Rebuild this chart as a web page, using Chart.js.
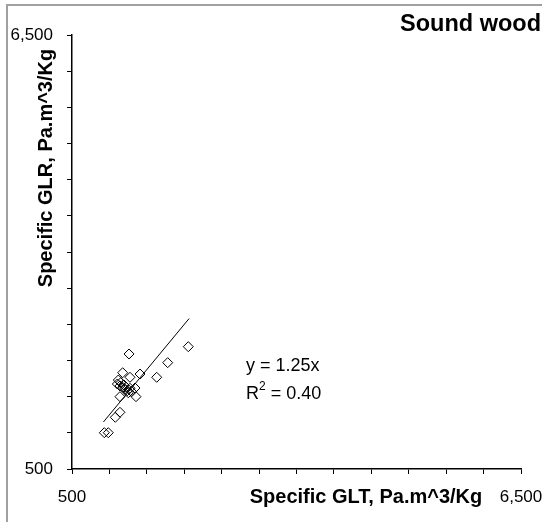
<!DOCTYPE html>
<html>
<head>
<meta charset="utf-8">
<script src="https://cdn.jsdelivr.net/npm/chart.js@4.4.0/dist/chart.umd.min.js"></script>
<style>
body { margin:0; background:#fff; overflow:hidden; }
#wrap { position:relative; width:542px; height:522px; overflow:hidden; }
#frame { position:absolute; left:6px; top:4px; width:600px; height:600px; border:2px solid #a0a0a0; box-sizing:border-box; }
canvas { position:absolute; left:0; top:0; }
</style>
</head>
<body>
<div id="wrap">
  <div id="frame"></div>
  <canvas id="myChart" width="542" height="522"></canvas>
</div>
<script>
// Datos
const glt = [932, 985, 1079, 1141, 1141, 1262, 1177, 1275, 1409, 1632, 1779, 2054, 1355,
             1119, 1151, 1106, 1141, 1177, 1208, 1239, 1222, 1275, 1342, 1252, 1298, 1195];
const glr = [1002, 1002, 1215, 1284, 1500, 2090, 1831, 1768, 1813, 1768, 1970, 2191, 1500,
             1730, 1693, 1675, 1648, 1630, 1602, 1583, 1630, 1616, 1620, 1555, 1569, 1661];
// linea de tendencia (extremos leidos)
const trendX = [920, 2065];
const trendY = [1150, 2580];
const axisMin = 500;
const axisMax = 6500;
const axisStep = 500;
const tickLabels = [500, 6500];

const chartTitle = "Sound wood";
const xTitle = "Specific GLT, Pa.m^3/Kg";
const yTitle = "Specific GLR, Pa.m^3/Kg";
const eqLine = "y = 1.25x";
const r2Value = "0.40";

const FONT = "'Liberation Sans', Arial, sans-serif";

let puntos = glt.map((x, i) => ({ x: x, y: glr[i] }));
let tendencia = trendX.map((x, i) => ({ x: x, y: trendY[i] }));

function tickText(value) {
    if (tickLabels.includes(value)) return value.toLocaleString("en-US");
    return "";
}

// textos extra: titulo, titulos de ejes y ecuacion
const textos = {
    id: "textos",
    afterDraw(chart) {
        const ctx = chart.ctx;
        ctx.save();
        ctx.fillStyle = "#000";
        ctx.textBaseline = "middle";

        ctx.font = "bold 23.5px " + FONT;
        ctx.textAlign = "right";
        ctx.fillText(chartTitle, 541, 25);

        ctx.font = "bold 20px " + FONT;
        ctx.textAlign = "center";
        ctx.fillText(xTitle, 366, 497);

        ctx.save();
        ctx.translate(46, 168);
        ctx.rotate(-Math.PI / 2);
        ctx.fillText(yTitle, 0, 0);
        ctx.restore();

        ctx.font = "18px " + FONT;
        ctx.textAlign = "left";
        ctx.fillText(eqLine, 246, 366);
        ctx.fillText("R", 246, 394);
        let w = ctx.measureText("R").width;
        ctx.font = "12px " + FONT;
        ctx.fillText("2", 246 + w, 387);
        let w2 = ctx.measureText("2").width;
        ctx.font = "18px " + FONT;
        ctx.fillText(" = " + r2Value, 246 + w + w2, 394);
        ctx.restore();
    }
};

const ejeComun = {
    type: "linear",
    min: axisMin,
    max: axisMax,
    grid: { drawOnChartArea: false, drawTicks: true, tickLength: 5, color: "#000", lineWidth: 1 },
    border: { display: true, color: "#000", width: 1.5 },
    ticks: {
        stepSize: axisStep,
        autoSkip: false,
        maxRotation: 0,
        color: "#000",
        font: { family: FONT, size: 17 },
        callback: tickText
    }
};

const config = {
    type: "scatter",
    data: {
        datasets: [
            {
                label: "GLR vs GLT",
                data: puntos,
                pointStyle: "rectRot",
                pointRadius: 5,
                pointHoverRadius: 5,
                borderColor: "#000",
                borderWidth: 1,
                backgroundColor: "rgba(0,0,0,0)"
            },
            {
                label: "Tendencia",
                data: tendencia,
                showLine: true,
                pointRadius: 0,
                borderColor: "#000",
                borderWidth: 1,
                fill: false
            }
        ]
    },
    options: {
        responsive: false,
        animation: false,
        events: [],
        layout: { padding: { left: 0, top: 35, right: 21, bottom: 0 } },
        plugins: { legend: { display: false }, tooltip: { enabled: false } },
        scales: {
            x: Object.assign({}, ejeComun, {
                position: "bottom",
                ticks: Object.assign({}, ejeComun.ticks, { padding: 13 }),
                afterFit(scale) {
                    scale.height = 53;
                    scale.paddingLeft = 0;
                    scale.paddingRight = 0;
                }
            }),
            y: Object.assign({}, ejeComun, {
                position: "left",
                ticks: Object.assign({}, ejeComun.ticks, { padding: 14 }),
                afterFit(scale) {
                    scale.width = 72;
                    scale.paddingTop = 0;
                    scale.paddingBottom = 0;
                }
            })
        }
    },
    plugins: [textos]
};

const myChart = document.getElementById("myChart");
new Chart(myChart, config);
</script>
</body>
</html>
